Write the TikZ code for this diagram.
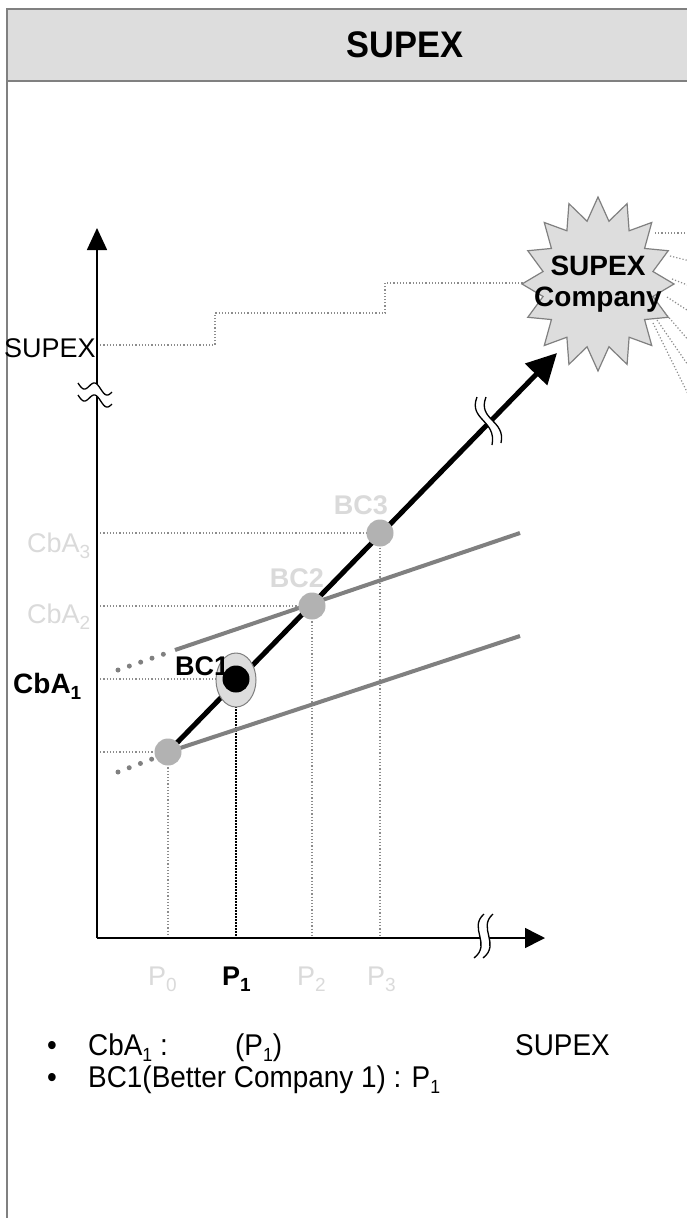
\documentclass[tikz,border=0pt]{standalone}
\usepackage{fontspec}
\setmainfont{Liberation Sans}
\newfontfamily\narrowfont[FakeStretch=0.93]{Liberation Sans}
\usetikzlibrary{arrows.meta}
\definecolor{hdr}{HTML}{DDDDDD}
\definecolor{midgray}{HTML}{808080}
\definecolor{dotgray}{HTML}{8C8C8C}
\definecolor{ballgray}{HTML}{B2B2B2}
\definecolor{faint}{HTML}{DADADA}
\newcommand{\myfs}[1]{\fontsize{#1pt}{#1pt}\selectfont}
\newcommand{\mysub}[1]{\raisebox{-6pt}{\myfs{19}#1}}
\begin{document}
\begin{tikzpicture}[x=1pt,y=-1pt,
  guide/.style={dotgray, line width=1.2pt, dash pattern=on 1.2pt off 2pt},
  blackguide/.style={black, line width=1.5pt, dash pattern=on 1.5pt off 1.5pt},
  ball/.style={circle, fill=ballgray, minimum size=27pt, inner sep=0pt},
  lbl/.style={inner sep=0pt, anchor=base west, font=\myfs{27}},
  cbl/.style={inner sep=0pt, anchor=base, font=\myfs{27}},
  bul/.style={inner sep=0pt, anchor=base west, font=\narrowfont\myfs{30}},
  graybar/.style={midgray, line width=4pt},
  bigdots/.style={midgray, line width=5pt, line cap=round, dash pattern=on 0pt off 12pt},
  breakline/.style={black, line width=1.3pt}]
\useasboundingbox (0,0) rectangle (686,1218);
% frame and header
\draw[midgray, line width=2pt, fill=white] (7,9) rectangle (730,1250);
\draw[midgray, line width=2pt, fill=hdr] (7,9) rectangle (730,81);
\node[inner sep=0pt] (title) at (405,45) {\narrowfont\bfseries\myfs{37}SUPEX};

% coordinates
\coordinate (O) at (97,938);
\coordinate (ytip) at (97,228);
\coordinate (xtip) at (545,938);
\coordinate (atip) at (557,353);

% stair dotted line
\coordinate (s0) at (97,345);
\coordinate (s1) at (215,345);
\coordinate (s2) at (215,313);
\coordinate (s3) at (385,313);
\coordinate (s4) at (385,283);
\coordinate (s5) at (523,283);
\draw[guide] (s0) -- (s1) -- (s2) -- (s3) -- (s4) -- (s5);

% star
\draw[midgray, fill=hdr, line width=1.2pt]
  plot[samples at={0,...,31}, variable=\k]
  ({598+(mod(\k,2)==0?76:56)*cos(\k*11.25)}, {284+(mod(\k,2)==0?87:64)*sin(\k*11.25)}) -- cycle;
\node[inner sep=0pt, align=center, font=\bfseries\myfs{28}] (supexco) at (598,284) {SUPEX\\[3pt]Company};

% fan lines
\foreach \a/\b/\c/\d [count=\i] in {655/233/690/233, 670/256/690/261, 672/279/690/286, 667/297/690/312, 665/313/690/342, 657/320/690/368, 653/323/690/398}{
  \coordinate (fa\i) at (\a,\b);
  \coordinate (fb\i) at (\c,\d);
  \draw[guide] (fa\i) -- (fb\i);
}

% points
\coordinate (p0) at (168,752);
\coordinate (b1) at (236,679);
\coordinate (b2) at (312,606);
\coordinate (b3) at (380,533);

% guide lines
\coordinate (y3) at (97,533);
\coordinate (y2) at (97,606);
\coordinate (y1) at (97,679);
\coordinate (y0) at (97,752);
\coordinate (x0) at (168,938);
\coordinate (x1) at (236,938);
\coordinate (x2) at (312,938);
\coordinate (x3) at (380,938);
\draw[guide] (y3) -- (b3) -- (x3);
\draw[guide] (y2) -- (b2) -- (x2);
\draw[guide] (y1) -- (b1);
\draw[blackguide] (b1) -- (x1);
\draw[guide] (y0) -- (p0) -- (x0);

% axes
\draw[black, line width=1.6pt, -{Triangle[length=22pt,width=20pt]}] (O) -- (ytip);
\draw[black, line width=1.6pt, -{Triangle[length=20pt,width=20pt]}] (O) -- (xtip);

% x-axis break
\fill[white] (484,914) .. controls (468,928) and (492,944) .. (474,958) -- (483,958) .. controls (501,944) and (477,928) .. (493,914) -- cycle;
\draw[breakline] (484,914) .. controls (468,928) and (492,944) .. (474,958);
\draw[breakline] (493,914) .. controls (477,928) and (501,944) .. (483,958);
% y-axis break
\fill[white] plot[domain=0:1, samples=25] ({78+34*\x}, {383+9*\x+4.5*sin(540*\x)})
  -- plot[domain=1:0, samples=25] ({78+34*\x}, {395+9*\x+4.5*sin(540*\x)}) -- cycle;
\draw[breakline] plot[domain=0:1, samples=25] ({78+34*\x}, {383+9*\x+4.5*sin(540*\x)});
\draw[breakline] plot[domain=0:1, samples=25] ({78+34*\x}, {395+9*\x+4.5*sin(540*\x)});

% gray lines
\coordinate (u0) at (175,650);
\coordinate (u1) at (520,533);
\coordinate (l1) at (520,636);
\draw[graybar] (u0) -- (u1);
\draw[graybar] (p0) -- (l1);
\coordinate (d0) at (118,670);
\coordinate (d1) at (167,653);
\coordinate (d2) at (118,772);
\coordinate (d3) at (160,756);
\draw[bigdots] (d0) -- (d1);
\draw[bigdots] (d2) -- (d3);

% main arrow
\draw[black, line width=5pt, -{Triangle[length=30pt,width=30pt]}] (p0) -- (atip);
% diagonal break
\fill[white] (477,397) .. controls (468,420) and (497,420) .. (492,445) -- (501,443) .. controls (506,420) and (477,420) .. (486,397) -- cycle;
\draw[breakline] (477,397) .. controls (468,420) and (497,420) .. (492,445);
\draw[breakline] (486,397) .. controls (477,420) and (506,420) .. (501,443);

% balls
\node[ball] (n0) at (p0) {};
\node[ball] (n2) at (b2) {};
\node[ball] (n3) at (b3) {};
\draw[midgray, fill=hdr, line width=1pt] (236,680) ellipse [x radius=20, y radius=27];
\node[lbl, font=\bfseries\myfs{27}] (bc1) at (175,675) {BC1};
\node[circle, fill=black, minimum size=27pt, inner sep=0pt] (n1) at (b1) {};

% labels
\node[cbl, text=faint, font=\bfseries\myfs{27}] (bc2) at (297,587) {BC2};
\node[cbl, text=faint, font=\bfseries\myfs{27}] (bc3) at (361,514) {BC3};
\node[lbl, text=faint] (cba3) at (27,552) {CbA\mysub{3}};
\node[lbl, text=faint] (cba2) at (27,623) {CbA\mysub{2}};
\node[lbl, font=\bfseries\myfs{28}] (cba1) at (13,693) {CbA\mysub{1}};
\node[lbl] (supexy) at (4,357) {SUPEX};
\node[lbl, text=faint] (lp0) at (148,985) {P\mysub{0}};
\node[lbl, font=\bfseries\myfs{27}] (lp1) at (222,985) {P\mysub{1}};
\node[lbl, text=faint] (lp2) at (297,985) {P\mysub{2}};
\node[lbl, text=faint] (lp3) at (367,985) {P\mysub{3}};

% bullets
\node[bul, anchor=base] (bu1) at (52,1055) {•};
\node[bul, anchor=base] (bu2) at (52,1087) {•};
\node[bul] (t1a) at (88,1055) {CbA\mysub{1} :};
\node[bul] (t1b) at (235,1055) {(P\mysub{1})};
\node[bul] (t1c) at (515,1055) {SUPEX};
\node[bul] (t2) at (88,1087) {BC1(Better Company 1) : P\mysub{1}};
\end{tikzpicture}
\end{document}
